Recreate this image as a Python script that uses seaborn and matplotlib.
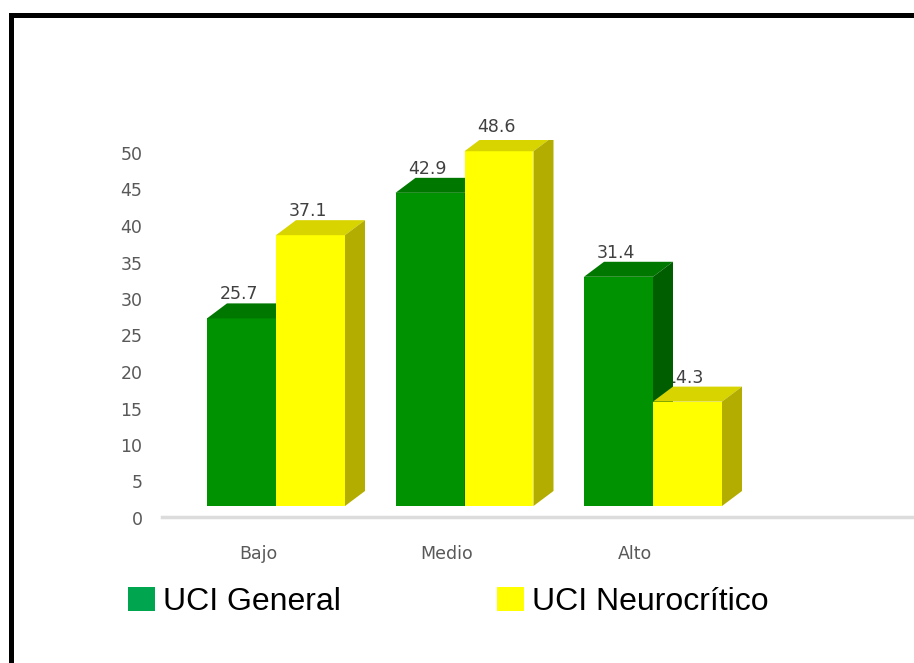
import matplotlib
matplotlib.use("Agg")
import matplotlib.pyplot as plt
import matplotlib.transforms as mtrans
from matplotlib.patches import Polygon, Rectangle, Patch
import seaborn as sns
import pandas as pd

# ---- data ----
categories = ["Bajo", "Medio", "Alto"]
series_names = ["UCI General", "UCI Neurocrítico"]
uci_general = [25.7, 42.9, 31.4]
uci_neuro = [37.1, 48.6, 14.3]
y_ticks = [0, 5, 10, 15, 20, 25, 30, 35, 40, 45, 50]

# ---- styles ----
front_cols = ["#009200", "#ffff00"]
top_cols = ["#007800", "#d8d400"]
side_cols = ["#005e00", "#b3ad00"]

df = pd.DataFrame({
    "nivel": categories * 2,
    "grupo": [series_names[0]] * 3 + [series_names[1]] * 3,
    "valor": uci_general + uci_neuro,
})

sns.set_style("white")
plt.rcParams["font.family"] = ["DejaVu Sans"]

W, H = 914, 663
fig = plt.figure(figsize=(W / 100, H / 100), dpi=100)
ax_l, ax_r, ax_b, ax_t = 162, 912, 517, 140
ax = fig.add_axes([ax_l / W, (H - ax_b) / H, (ax_r - ax_l) / W, (ax_b - ax_t) / H])

sns.barplot(data=df, x="nivel", y="valor", hue="grupo", order=categories,
            hue_order=series_names, palette=front_cols, saturation=1,
            width=0.732, ax=ax, legend=False, linewidth=0, edgecolor="none")

px_per_x = 188.5
px_per_y = 7.3
ax.set_xlim((ax_l - 276) / px_per_x, (ax_r - 276) / px_per_x)
ax.set_ylim((506 - ax_b) / px_per_y, (506 - ax_t) / px_per_y)

# 3D faces
dx = 20 / px_per_x
dy = 15 / px_per_y
for si, cont in enumerate(ax.containers):
    z = 3 + si
    for bar in cont:
        bar.set_zorder(z)
        x0 = bar.get_x()
        w = bar.get_width()
        h = bar.get_height()
        top = Polygon([(x0, h), (x0 + w, h), (x0 + w + dx, h + dy), (x0 + dx, h + dy)],
                      closed=True, facecolor=top_cols[si], edgecolor="none", zorder=z)
        side = Polygon([(x0 + w, 0), (x0 + w + dx, dy), (x0 + w + dx, h + dy), (x0 + w, h)],
                       closed=True, facecolor=side_cols[si], edgecolor="none", zorder=z)
        ax.add_patch(top)
        ax.add_patch(side)
        ax.annotate(f"{h:.1f}", xy=(x0 + w / 2, h), xytext=(-3, 19),
                    textcoords="offset pixels", ha="center", va="baseline",
                    fontsize=12.5, color="#404040", zorder=2, annotation_clip=False)

# axes styling
for s in ["left", "right", "top"]:
    ax.spines[s].set_visible(False)
ax.spines["bottom"].set_color("#dcdcdc")
ax.spines["bottom"].set_linewidth(2.5)
ax.set_xlabel("")
ax.set_ylabel("")
ax.set_yticks(y_ticks)
ax.set_yticklabels([str(t) for t in y_ticks])
ax.tick_params(axis="y", length=0, pad=14, labelsize=12.5, labelcolor="#595959")
ax.tick_params(axis="x", length=0, pad=20, labelsize=12.5, labelcolor="#595959")
yoff = mtrans.ScaledTranslation(0, -12 / 100, fig.dpi_scale_trans)
for lab in ax.get_yticklabels():
    lab.set_transform(lab.get_transform() + yoff)
xoff = mtrans.ScaledTranslation(-18 / 100, 0, fig.dpi_scale_trans)
for lab in ax.get_xticklabels():
    lab.set_transform(lab.get_transform() + xoff)

# legend
handles = [Patch(facecolor=c, edgecolor="none") for c in ["#00a550", "#ffff00"]]
fig.legend(handles, series_names, loc="center left",
           bbox_to_anchor=(128 / W, (H - 602) / H), ncol=2, frameon=False,
           prop={"family": "Liberation Sans", "size": 23}, labelcolor="black",
           handlelength=0.84, handleheight=0.78, handletextpad=0.25,
           columnspacing=4.9, borderpad=0, borderaxespad=0)

# outer frame (top and left visible)
fig.add_artist(Rectangle((10.5 / W, -0.1), 1.2, (H - 14.5) / H + 0.1,
                         transform=fig.transFigure, fill=False,
                         edgecolor="black", linewidth=3.6))

fig.savefig("out.png", dpi=100)
